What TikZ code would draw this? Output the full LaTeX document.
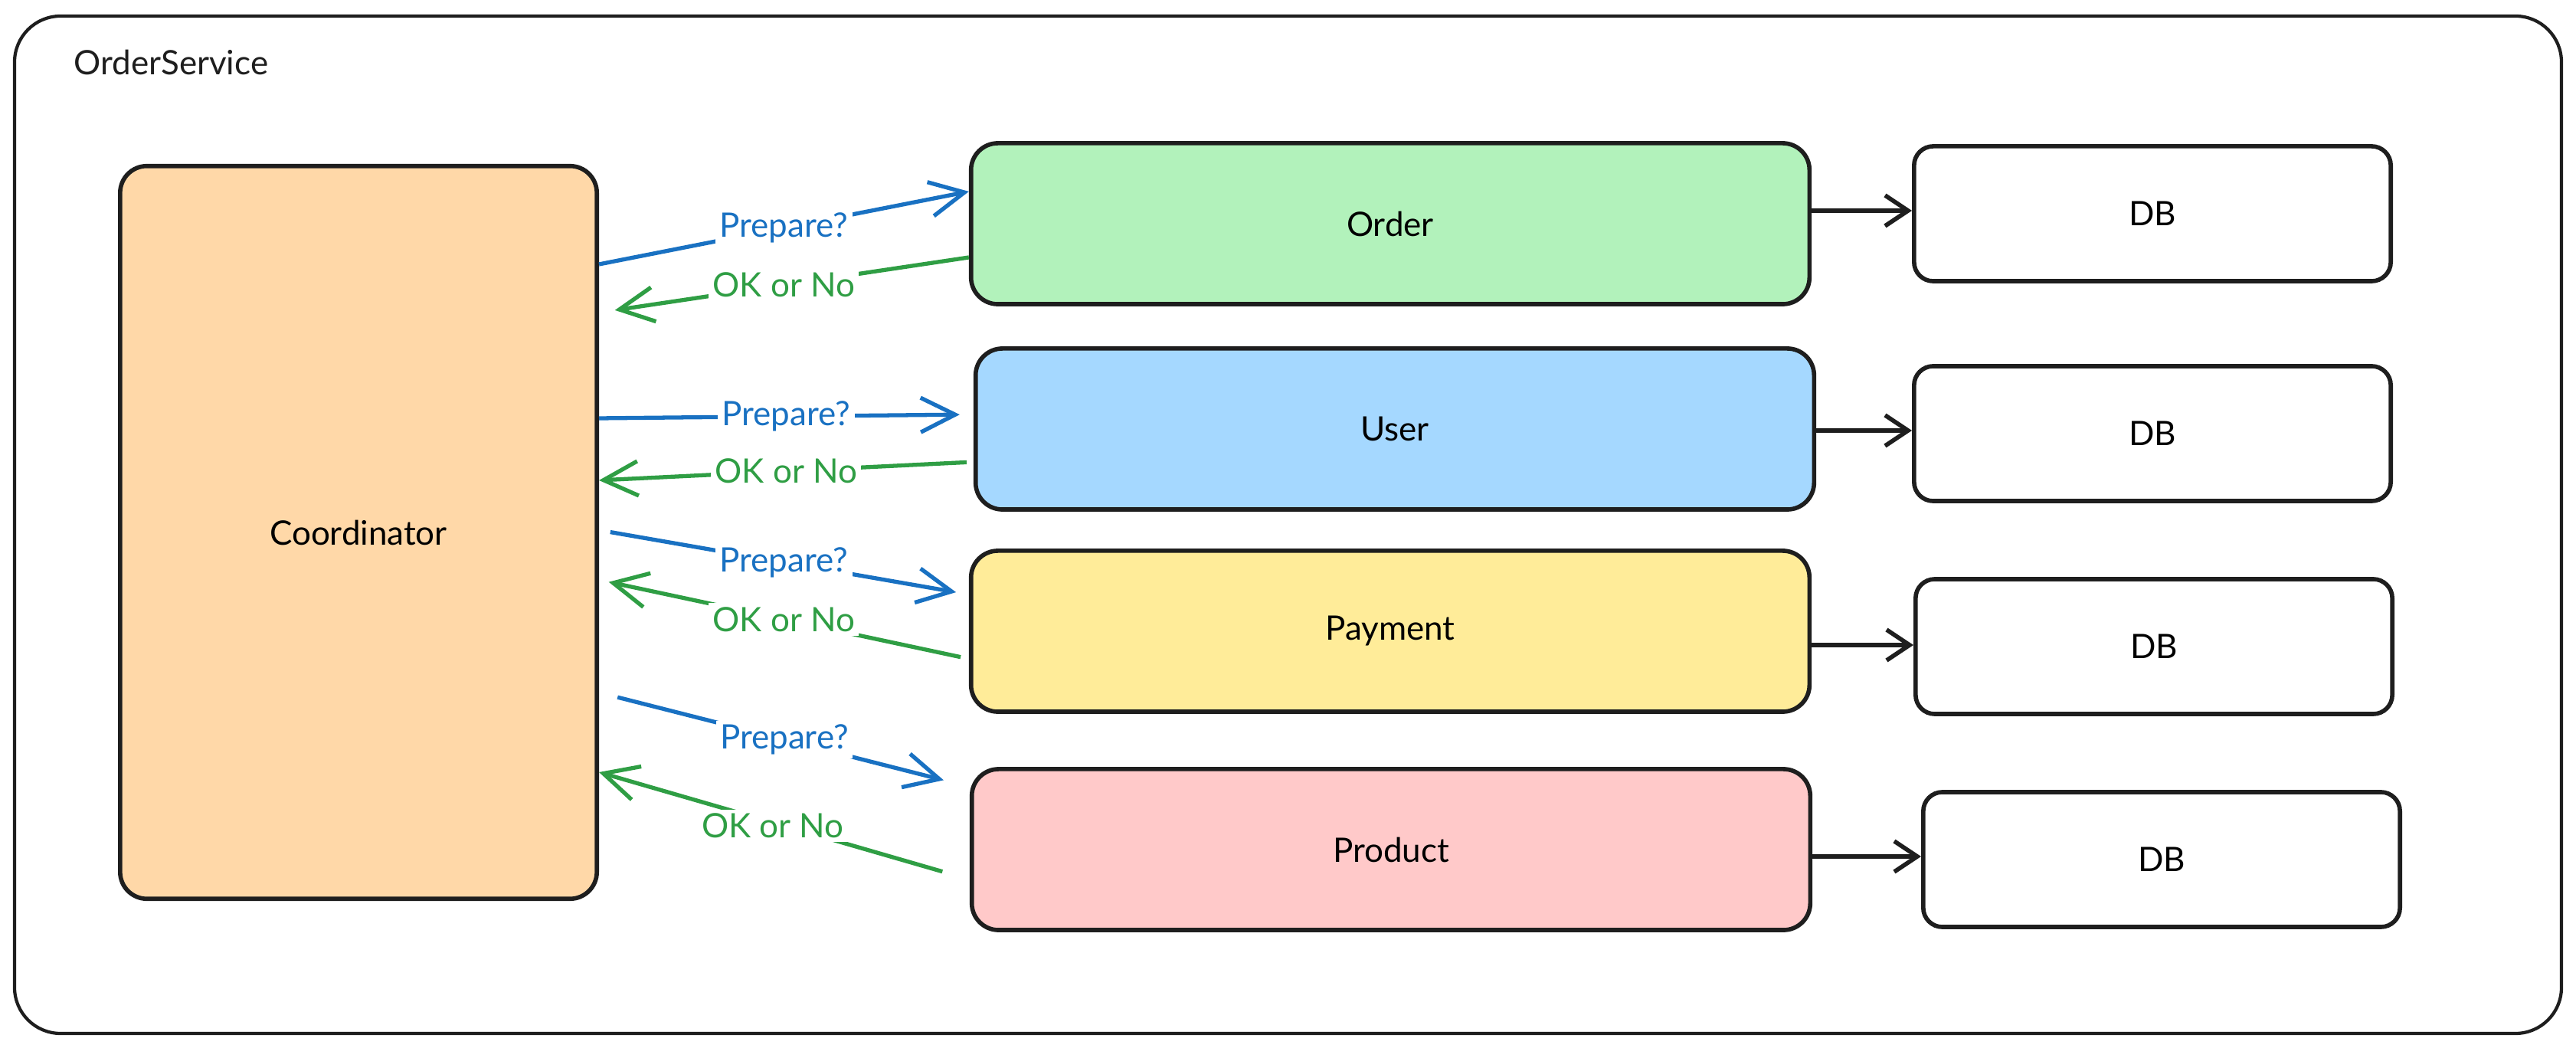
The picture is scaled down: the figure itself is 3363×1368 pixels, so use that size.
\documentclass[tikz,border=0pt]{standalone}
\usepackage{fontspec}
\setmainfont{Lato}
\usetikzlibrary{arrows.meta,calc}
\definecolor{ink}{HTML}{1E1E1E}
\definecolor{prepblue}{HTML}{1971C2}
\definecolor{okgreen}{HTML}{2F9E44}
\definecolor{coordfill}{HTML}{FFD8A8}
\definecolor{orderfill}{HTML}{B2F2BB}
\definecolor{userfill}{HTML}{A5D8FF}
\definecolor{payfill}{HTML}{FFEC99}
\definecolor{prodfill}{HTML}{FFC9C9}

\begin{document}
\begin{tikzpicture}[x=0.01cm,y=-0.01cm,font=\fontsize{12.5}{15}\selectfont,
    svcbox/.style={draw=ink,line width=1.6pt,rounded corners=0.35cm,minimum width=10.94cm,minimum height=2.1cm,inner sep=0pt},
    dbbox/.style={draw=ink,line width=1.6pt,rounded corners=0.25cm,minimum width=6.22cm,minimum height=1.76cm,inner sep=0pt},
    prep/.style={draw=prepblue,line width=1.5pt,-{Straight Barb[length=0.45cm,width=0.45cm]}},
    okno/.style={draw=okgreen,line width=1.5pt,-{Straight Barb[length=0.45cm,width=0.45cm]}},
    store/.style={draw=ink,line width=1.6pt,-{Straight Barb[length=0.3cm,width=0.4cm]}},
    tag/.style={midway,fill=white,inner sep=1.5pt}]
    \useasboundingbox (0,0) rectangle (3363,1368);
    % outer frame
    \draw[ink,line width=1.2pt,rounded corners=0.6cm] (19,21) rectangle (3344,1349);
    \node[anchor=west,text=ink,inner sep=0pt] (title) at (96,82) {OrderService};
    % services
    \node[svcbox,fill=coordfill,minimum width=6.22cm,minimum height=9.56cm] (coord) at (468,695) {Coordinator};
    \node[svcbox,fill=orderfill] (order) at (1815,292) {Order};
    \node[svcbox,fill=userfill] (user) at (1821,560) {User};
    \node[svcbox,fill=payfill] (payment) at (1815,824) {Payment};
    \node[svcbox,fill=prodfill] (product) at (1816,1109) {Product};
    % databases
    \node[dbbox] (db1) at (2810,279) {DB};
    \node[dbbox] (db2) at (2810,566) {DB};
    \node[dbbox] (db3) at (2812,844) {DB};
    \node[dbbox] (db4) at (2822,1122) {DB};
    % prepare / vote
    \draw[prep] (coord.east |- 0,345) -- (order.west |- 0,250) node[tag,text=prepblue]{Prepare?};
    \draw[okno,shorten >=0.21cm] (order.west |- 0,336) -- (coord.east |- 0,408) node[tag,text=okgreen]{OK or No};
    \draw[prep,shorten >=0.18cm] (coord.east |- 0,546) -- (user.west |- 0,541) node[tag,text=prepblue]{Prepare?};
    \draw[okno,shorten <=0.09cm] (user.west |- 0,603) -- (coord.east |- 0,627) node[tag,text=okgreen]{OK or No};
    \draw[prep,shorten <=0.15cm,shorten >=0.17cm] (coord.east |- 0,692) -- (payment.west |- 0,776) node[tag,text=prepblue]{Prepare?};
    \draw[okno,shorten <=0.11cm,shorten >=0.13cm] (payment.west |- 0,860) -- (coord.east |- 0,757) node[tag,text=okgreen]{OK or No};
    \draw[prep,shorten <=0.25cm,shorten >=0.35cm] (coord.east |- 0,904) -- (product.west |- 0,1027) node[tag,text=prepblue]{Prepare?};
    \draw[okno,shorten <=0.37cm] (product.west |- 0,1148) -- (coord.east |- 0,1008) node[tag,text=okgreen,xshift=-0.15cm]{OK or No};
    % to storage
    \draw[store] (order.east |- 0,275) -- (db1.west |- 0,275);
    \draw[store] (user.east |- 0,562) -- (db2.west |- 0,562);
    \draw[store] (payment.east |- 0,842) -- (db3.west |- 0,842);
    \draw[store] (product.east |- 0,1118) -- (db4.west |- 0,1118);
\end{tikzpicture}
\end{document}
